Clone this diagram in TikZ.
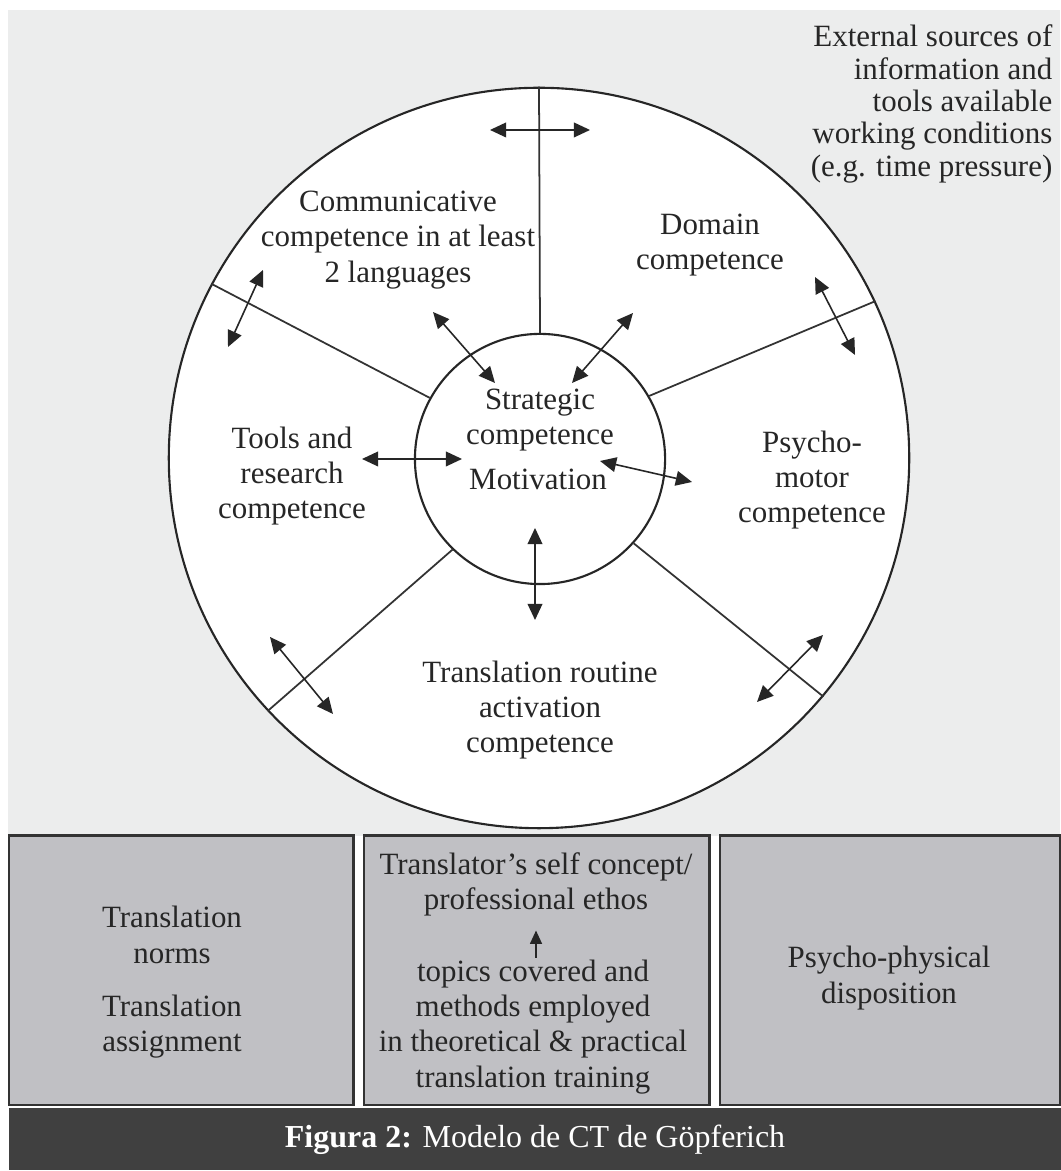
\documentclass[tikz,border=0pt]{standalone}
\usepackage{fontspec}
\setmainfont{Liberation Serif}
\usetikzlibrary{arrows.meta,positioning}

\definecolor{bggray}{HTML}{ECEDED}
\definecolor{boxgray}{HTML}{C0C0C4}
\definecolor{capgray}{HTML}{404040}
\definecolor{inkgray}{HTML}{262626}

\begin{document}
\begin{tikzpicture}[x=0.01cm,y=0.01cm,
  lbl/.style={align=center,inner sep=0pt,text=inkgray,font=\fontsize{8.8}{10}\selectfont},
  ring/.style={draw=inkgray,circle,fill=white,inner sep=0pt,line width=0.6pt},
  spoke/.style={draw=black!80,line width=0.5pt},
  dbl/.style={{Triangle[length=4.6pt,width=4.2pt]}-{Triangle[length=4.6pt,width=4.2pt]},line width=0.45pt,inkgray},
  panel/.style={draw=black!80,fill=boxgray,line width=0.7pt,inner sep=0pt,anchor=south west,minimum height=2.69cm}]
  \useasboundingbox (0,0) rectangle (1060,1171);
  \fill[bggray] (8,335) rectangle (1060,1161);

  % competence wheel
  \node[ring,minimum size=7.4cm] (outer) at (539,713) {};
  \node[ring,minimum size=2.5cm] (inner) at (540,712) {};
  \foreach \a/\b in {90/90,151/152,30/25,226/223,-42/-40}
    \draw[spoke] (inner.\a) -- (outer.\b);

  \node[lbl,anchor=east,font=\fontsize{8.8}{9.2}\selectfont,align=right] (ext) at (1053,1067)
    {External sources of\\information and\\tools available\\working conditions\\(e.g. time pressure)};
  \node[lbl] (comm)  at (398,931) {Communicative\\competence in at least\\2 languages};
  \node[lbl] (dom)   at (710,926) {Domain\\competence};
  \node[lbl] (strat) at (540,751) {Strategic\\competence};
  \node[lbl] (motiv) at (538,692) {Motivation};
  \node[lbl] (tools) at (292,695) {Tools and\\research\\competence};
  \node[lbl] (psy)   at (812,691) {Psycho-\\motor\\competence};
  \node[lbl] (rout)  at (540,461) {Translation routine\\activation\\competence};

  % arrow ends
  \coordinate (t1) at (490,1041); \coordinate (t2) at (590,1041);
  \coordinate (l1) at (263,901);  \coordinate (l2) at (228,824);
  \coordinate (c1) at (433,859);  \coordinate (c2) at (495,788);
  \coordinate (d1) at (633,858);  \coordinate (d2) at (572,788);
  \coordinate (r1) at (815,894);  \coordinate (r2) at (855,816);
  \coordinate (o1) at (362,712);  \coordinate (o2) at (462,712);
  \coordinate (p1) at (600,710);  \coordinate (p2) at (692,689);
  \coordinate (m1) at (535,643);  \coordinate (m2) at (535,551);
  \coordinate (b1) at (270,534);  \coordinate (b2) at (333,457);
  \coordinate (e1) at (823,536);  \coordinate (e2) at (757,469);
  \foreach \u/\v in {t1/t2,l1/l2,c1/c2,d1/d2,r1/r2,o1/o2,p1/p2,m1/m2,b1/b2,e1/e2}
    \draw[dbl] (\u) -- (\v);

  % bottom panels
  \node[panel,minimum width=3.44cm] (pa) at (8,65) {};
  \node[panel,minimum width=3.45cm] (pb) at (363,65) {};
  \node[panel,minimum width=3.40cm] (pc) at (719,65) {};
  \node[lbl] (norms)  at (172,236) {Translation\\norms};
  \node[lbl] (assign) at (172,144) {Translation\\assignment};
  \node[lbl] (ethos)  at (536,287) {Translator’s self concept/\\professional ethos};
  \node[lbl] (topics) at (533,144) {topics covered and\\methods employed\\in theoretical \& practical\\translation training};
  \node[lbl] (disp)   at (889,193) {Psycho-physical\\disposition};
  \draw[-{Triangle[length=3.8pt,width=3.4pt]},line width=0.45pt,inkgray,shorten >=4pt,shorten <=0.5pt]
    (topics.north -| ethos.south) -- (ethos.south);

  % caption
  \node[fill=capgray,inner sep=0pt,anchor=south west,minimum width=10.52cm,minimum height=0.62cm,
    text=white,font=\fontsize{9.1}{10}\selectfont] (cap) at (8,0)
    {\textbf{Figura 2:} Modelo de CT de Göpferich};
\end{tikzpicture}
\end{document}
